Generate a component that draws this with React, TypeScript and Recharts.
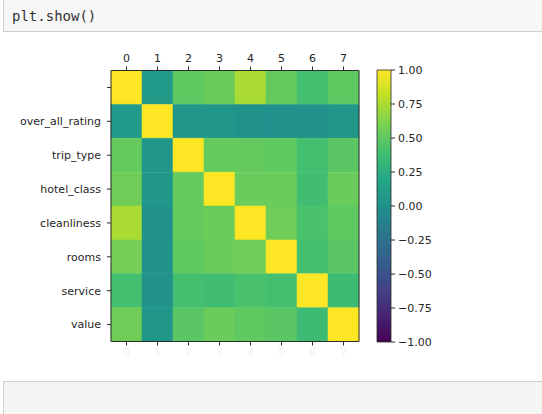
import React from 'react';
import { BarChart, Bar, XAxis, YAxis, Cell } from 'recharts';

// ---- data ----
const columnLabels = ['0', '1', '2', '3', '4', '5', '6', '7'];
const rowLabels = ['', 'over_all_rating', 'trip_type', 'hotel_class', 'cleanliness', 'rooms', 'service', 'value'];

const rowUnnamed = [1.0, 0.08, 0.5, 0.54, 0.74, 0.52, 0.4, 0.5];
const rowOverall = [0.08, 1.0, 0.05, 0.05, 0.0, 0.0, 0.02, 0.05];
const rowTripType = [0.52, 0.05, 1.0, 0.52, 0.52, 0.5, 0.4, 0.48];
const rowHotelClass = [0.56, 0.05, 0.52, 1.0, 0.54, 0.54, 0.38, 0.54];
const rowCleanliness = [0.74, 0.0, 0.52, 0.54, 1.0, 0.56, 0.42, 0.5];
const rowRooms = [0.58, 0.0, 0.5, 0.54, 0.56, 1.0, 0.4, 0.48];
const rowService = [0.4, 0.02, 0.4, 0.38, 0.42, 0.4, 1.0, 0.36];
const rowValue = [0.56, 0.05, 0.48, 0.54, 0.5, 0.48, 0.36, 1.0];

const matrix = [rowUnnamed, rowOverall, rowTripType, rowHotelClass, rowCleanliness, rowRooms, rowService, rowValue];

const colorbarTicks = [-1, -0.75, -0.5, -0.25, 0, 0.25, 0.5, 0.75, 1];
const colorbarData = [{ name: 'cb', range: [-1, 1] }];

// ---- viridis colormap (style) ----
const VIRIDIS = ['#440154', '#482475', '#414487', '#355f8d', '#2a788e', '#21918c', '#22a884', '#44bf70', '#7ad151', '#bddf26', '#fde725'];

function hexToRgb(h: string) {
  return [parseInt(h.slice(1, 3), 16), parseInt(h.slice(3, 5), 16), parseInt(h.slice(5, 7), 16)];
}
function viridis(v: number) {
  const p = Math.max(0, Math.min(1, (v + 1) / 2)) * (VIRIDIS.length - 1);
  const i = Math.min(Math.floor(p), VIRIDIS.length - 2);
  const t = p - i;
  const a = hexToRgb(VIRIDIS[i]);
  const b = hexToRgb(VIRIDIS[i + 1]);
  const c = a.map((x, k) => Math.round(x + (b[k] - x) * t));
  return `rgb(${c[0]},${c[1]},${c[2]})`;
}

// one record per column; each row is a unit-height stacked cell
const heatData = columnLabels.map((col) => {
  const rec: Record<string, string | number> = { col };
  rowLabels.forEach((_, r) => {
    rec[`r${r}`] = 1;
  });
  return rec;
});

const rowTicks = rowLabels.map((_, i) => i + 0.5);
const fmt = (v: number) => (v < 0 ? '\u2212' + Math.abs(v).toFixed(2) : v.toFixed(2));

const spine = '#2a2a2a';
const txt = '#262626';

export default function App() {
  return (
    <div style={{ position: 'absolute', left: 0, top: 0, width: 542, height: 414, background: '#fff', overflow: 'hidden', fontFamily: 'DejaVu Sans, sans-serif' }}>
      <svg width={0} height={0} style={{ position: 'absolute' }}>
        <defs>
          <linearGradient id="viridisV" x1="0" y1="0" x2="0" y2="1">
            {VIRIDIS.slice().reverse().map((c, i) => (
              <stop key={i} offset={`${(i / (VIRIDIS.length - 1)) * 100}%`} stopColor={c} />
            ))}
          </linearGradient>
        </defs>
      </svg>

      {/* input cell */}
      <div style={{ position: 'absolute', left: 3, top: -2, width: 560, height: 34, background: '#f7f7f7', border: '1px solid #cfcfcf', boxSizing: 'border-box' }} />
      <div style={{ position: 'absolute', left: 12, top: 0, height: 33, lineHeight: '33px', fontFamily: 'DejaVu Sans Mono, monospace', fontSize: 14, color: '#333' }}>plt.show()</div>

      {/* heatmap */}
      <div style={{ position: 'absolute', left: 0, top: 0 }}>
        <BarChart width={370} height={370} data={heatData} margin={{ top: 40.5, right: 10, bottom: 8.5, left: 0 }} barCategoryGap={0} barGap={0}>
          <XAxis xAxisId="top" dataKey="col" orientation="top" height={30} tickSize={4} tickMargin={5} stroke={spine} tick={{ fontSize: 11, fill: txt }} interval={0} />
          <XAxis xAxisId="bottom" dataKey="col" orientation="bottom" height={20} tickSize={4} tickMargin={3} stroke={spine} tick={{ fontSize: 11, fill: '#f2f2f2' }} interval={0} />
          <YAxis yAxisId="left" type="number" domain={[0, 8]} reversed ticks={rowTicks} tickFormatter={(v: number) => rowLabels[Math.floor(v)]} width={111} tickSize={4} tickMargin={6} stroke={spine} tick={{ fontSize: 11, fill: txt }} interval={0} allowDataOverflow />
          <YAxis yAxisId="right" orientation="right" type="number" domain={[0, 8]} reversed width={1} tick={false} tickLine={false} stroke={spine} />
          {rowLabels.map((_, r) => (
            <Bar key={r} dataKey={`r${r}`} stackId="heat" xAxisId="top" yAxisId="left" isAnimationActive={false}>
              {columnLabels.map((_c, c) => {
                const f = viridis(matrix[r][c]);
                return <Cell key={c} fill={f} stroke={f} strokeWidth={0.5} />;
              })}
            </Bar>
          ))}
        </BarChart>
      </div>

      {/* colorbar */}
      <div style={{ position: 'absolute', left: 0, top: 0 }}>
        <BarChart width={450} height={370} data={colorbarData} margin={{ top: 70, right: 9, bottom: 28, left: 377 }} barCategoryGap={0}>
          <XAxis dataKey="name" hide />
          <YAxis orientation="right" type="number" domain={[-1, 1]} ticks={colorbarTicks} tickFormatter={fmt} width={50} tickSize={4} tickMargin={3} stroke={spine} axisLine={false} tick={{ fontSize: 11, fill: txt }} interval={0} />
          <Bar dataKey="range" fill="url(#viridisV)" stroke={spine} strokeWidth={0.8} isAnimationActive={false} />
        </BarChart>
      </div>

      {/* next empty cell */}
      <div style={{ position: 'absolute', left: 3, top: 381, width: 560, height: 60, background: '#f5f5f5', border: '1px solid #cfcfcf', boxSizing: 'border-box' }} />
    </div>
  );
}
